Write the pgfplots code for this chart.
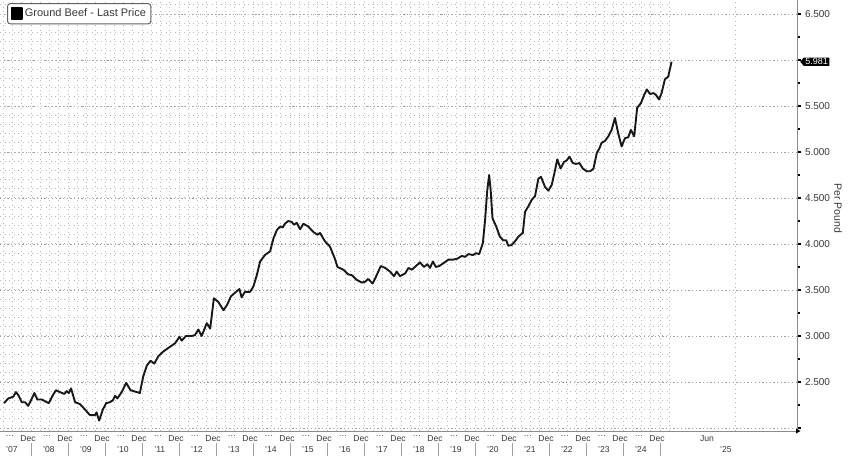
\documentclass[border=0pt]{standalone}
\usepackage{fontspec}
\setmainfont{Liberation Sans}
\usepackage{pgfplots}
\pgfplotsset{compat=1.18}
\usetikzlibrary{shapes.symbols}

\definecolor{txt}{HTML}{383838}
\definecolor{axgray}{HTML}{8C8C8C}
\definecolor{gridmin}{HTML}{B9B9B9}
\definecolor{gridmaj}{HTML}{A0A0A0}
\newcommand\lab{\fontsize{8.6}{10}\selectfont}

\begin{document}
\begin{tikzpicture}
\begin{axis}[
  at={(0,25pt)}, anchor=south west,
  scale only axis, width=797pt, height=431pt,
  xmin=2007.16, xmax=2028.70, ymin=1.967, ymax=6.652,
  clip=false,
  axis x line*=bottom, axis y line*=right,
  axis line style={axgray, line width=0.9pt},
  % y axis
  ytick={2,2.5,...,6.5},
  yticklabels={,2.500,3.000,3.500,4.000,4.500,5.000,5.500,,6.500},
  minor ytick={2.25,2.75,...,6.25},
  ymajorgrids,
  major grid style={gridmaj, dash pattern=on 1.3pt off 2.4pt, line width=0.9pt},
  ytick style={black, line width=1.5pt},
  major tick length=4pt,
  minor tick length=2.5pt,
  every minor tick/.append style={axgray, line width=0.7pt},
  tick align=outside,
  yticklabel style={font=\fontsize{10}{12}\selectfont, text=txt, xshift=0.5pt},
  % x axis
  xtick={2007.43,2007.917,2008.43,2008.917,2009.43,2009.917,2010.43,2010.917,
         2011.43,2011.917,2012.43,2012.917,2013.43,2013.917,2014.43,2014.917,
         2015.43,2015.917,2016.43,2016.917,2017.43,2017.917,2018.43,2018.917,
         2019.43,2019.917,2020.43,2020.917,2021.43,2021.917,2022.43,2022.917,
         2023.43,2023.917,2024.43,2024.917,2026.27},
  xticklabels={…,Dec,…,Dec,…,Dec,…,Dec,…,Dec,…,Dec,…,Dec,…,Dec,…,Dec,
               …,Dec,…,Dec,…,Dec,…,Dec,…,Dec,…,Dec,…,Dec,…,Dec,…,Dec,Jun},
  xtick style={draw=none},
  xticklabel style={font=\lab, text=txt, yshift=2.5pt},
  extra x ticks={2007.48,2008.48,2009.48,2010.48,2011.48,2012.48,2013.48,
                 2014.48,2015.48,2016.48,2017.48,2018.48,2019.48,2020.48,
                 2021.48,2022.48,2023.48,2024.48,2026.78},
  extra x tick labels={'07,'08,'09,'10,'11,'12,'13,'14,'15,'16,'17,'18,
                       '19,'20,'21,'22,'23,'24,'25},
  extra x tick style={tick label style={yshift=-10.5pt}},
  % legend
  legend style={at={(0,1)}, anchor=north west, xshift=7pt, yshift=-3pt,
    draw=axgray!70!black, line width=1pt, rounded corners=3pt,
    font=\fontsize{11}{13}\selectfont, text=txt,
    inner xsep=3pt, inner ysep=3.5pt},
  legend cell align=left,
  legend image code/.code={\fill[black, sharp corners] (0pt,-5pt) rectangle (10.5pt,5.5pt);},
]
% dotted minor grid over the data range
\pgfplotsinvokeforeach{2007.25,2007.5,...,2025.3}{
  \draw[gridmin, line width=1pt, dash pattern=on 1pt off 3.6pt]
    (axis cs:#1,1.967) -- (axis cs:#1,6.652);}
\pgfplotsinvokeforeach{2.1,2.2,...,6.65}{
  \draw[gridmin, line width=1pt, dash pattern=on 1pt off 3.6pt]
    (axis cs:2007.16,#1) -- (axis cs:2025.25,#1);}
\draw[gridmin, line width=1pt, dash pattern=on 1pt off 3.6pt]
  (axis cs:2027.05,1.967) -- (axis cs:2027.05,6.652);
% year separators below the axis
\pgfplotsinvokeforeach{2008,2009,...,2025}{
  \draw[gridmaj, line width=0.8pt]
    ([yshift=-12pt]axis cs:#1,1.967) -- ([yshift=-25pt]axis cs:#1,1.967);}

\addplot[black!90, line width=1.9pt, line join=round] coordinates {
(2007.27,2.27) (2007.38,2.32) (2007.52,2.34) (2007.59,2.39) (2007.65,2.36)
(2007.75,2.28) (2007.84,2.28) (2007.92,2.24) (2008.02,2.32) (2008.09,2.38)
(2008.17,2.31) (2008.29,2.31) (2008.38,2.29) (2008.48,2.27) (2008.58,2.35)
(2008.67,2.41) (2008.78,2.39) (2008.90,2.37) (2008.96,2.40) (2009.02,2.38)
(2009.08,2.43) (2009.19,2.28) (2009.32,2.26) (2009.46,2.20) (2009.59,2.14)
(2009.73,2.14) (2009.77,2.17) (2009.84,2.08) (2009.94,2.20) (2010.03,2.27)
(2010.13,2.28) (2010.21,2.30) (2010.27,2.35) (2010.33,2.32) (2010.45,2.39)
(2010.57,2.49) (2010.69,2.41) (2010.94,2.38) (2011.03,2.56) (2011.13,2.68)
(2011.23,2.73) (2011.33,2.70) (2011.44,2.78) (2011.57,2.83) (2011.71,2.87)
(2011.89,2.92) (2012.01,2.99) (2012.07,2.95) (2012.19,3.00) (2012.34,3.00)
(2012.43,3.01) (2012.52,3.07) (2012.61,3.00) (2012.75,3.14) (2012.84,3.08)
(2012.94,3.41) (2013.06,3.37) (2013.20,3.28) (2013.30,3.34) (2013.40,3.43)
(2013.51,3.47) (2013.63,3.51) (2013.69,3.42) (2013.78,3.48) (2013.92,3.48)
(2014.01,3.54) (2014.10,3.66) (2014.19,3.81) (2014.32,3.88) (2014.46,3.92)
(2014.55,4.06) (2014.64,4.15) (2014.73,4.19) (2014.80,4.18) (2014.86,4.22)
(2014.95,4.25) (2015.04,4.24) (2015.11,4.21) (2015.18,4.23) (2015.27,4.16)
(2015.36,4.22) (2015.49,4.19) (2015.63,4.13) (2015.74,4.10) (2015.81,4.12)
(2015.94,4.03) (2016.08,3.97) (2016.21,3.84) (2016.28,3.75) (2016.44,3.72)
(2016.57,3.67) (2016.67,3.66) (2016.80,3.61) (2016.94,3.58) (2017.03,3.59)
(2017.11,3.62) (2017.23,3.57) (2017.34,3.66) (2017.45,3.76) (2017.57,3.74)
(2017.70,3.70) (2017.81,3.65) (2017.88,3.70) (2017.97,3.65) (2018.11,3.68)
(2018.20,3.74) (2018.29,3.72) (2018.40,3.76) (2018.51,3.80) (2018.62,3.75)
(2018.71,3.78) (2018.78,3.74) (2018.86,3.81) (2018.94,3.75) (2019.03,3.76)
(2019.14,3.79) (2019.28,3.83) (2019.41,3.83) (2019.52,3.84) (2019.64,3.87)
(2019.73,3.86) (2019.82,3.89) (2019.94,3.88) (2020.03,3.90) (2020.11,3.89)
(2020.21,4.01) (2020.27,4.26) (2020.33,4.59) (2020.38,4.75) (2020.42,4.59)
(2020.47,4.28) (2020.57,4.19) (2020.67,4.08) (2020.76,4.04) (2020.84,4.04)
(2020.90,3.98) (2020.99,3.99) (2021.08,4.03) (2021.17,4.08) (2021.29,4.12)
(2021.35,4.35) (2021.44,4.41) (2021.53,4.48) (2021.62,4.52) (2021.71,4.71)
(2021.78,4.73) (2021.89,4.62) (2021.98,4.58) (2022.07,4.64) (2022.16,4.80)
(2022.22,4.92) (2022.31,4.82) (2022.40,4.89) (2022.48,4.91) (2022.55,4.95)
(2022.64,4.88) (2022.73,4.87) (2022.82,4.88) (2022.91,4.82) (2023.02,4.79)
(2023.11,4.79) (2023.20,4.82) (2023.29,4.99) (2023.36,5.04) (2023.42,5.10)
(2023.51,5.12) (2023.60,5.17) (2023.69,5.24) (2023.78,5.37) (2023.87,5.20)
(2023.96,5.06) (2024.05,5.15) (2024.14,5.16) (2024.21,5.24) (2024.30,5.17)
(2024.38,5.48) (2024.48,5.53) (2024.57,5.62) (2024.64,5.68) (2024.73,5.63)
(2024.82,5.64) (2024.89,5.62) (2024.97,5.57) (2025.04,5.64) (2025.13,5.79)
(2025.22,5.82) (2025.31,5.981)
};
\addlegendentry{Ground Beef - Last Price}

% last value tag on the right axis
\node[signal, signal to=west, signal pointer angle=100, fill=black,
  text=white, anchor=west, inner xsep=1.5pt, inner ysep=1pt,
  font=\fontsize{9}{10}\selectfont]
  at ([xshift=3pt]axis cs:2028.70,5.981) {5.981};
% arrow head at the end of the x axis
\fill[black] ([xshift=-1pt,yshift=-2.5pt]axis cs:2028.70,1.967)
  -- ([xshift=3.5pt]axis cs:2028.70,1.967)
  -- ([xshift=-1pt,yshift=2.5pt]axis cs:2028.70,1.967) -- cycle;
% axis title on the right
\node[rotate=-90, text=txt, font=\fontsize{10.5}{12}\selectfont]
  at ([xshift=41pt]axis description cs:1,0.517) {Per Pound};
\end{axis}
\pgfresetboundingbox
\path[use as bounding box] (0,0) rectangle (848pt,456pt);
\end{tikzpicture}
\end{document}
